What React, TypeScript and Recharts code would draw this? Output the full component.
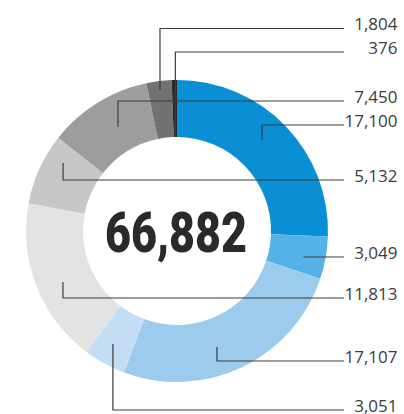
import React from "react";
import { PieChart, Pie, Cell } from "recharts";

const categories = ["A", "B", "C", "D", "E", "F", "G", "H", "I"];
const values = [17100, 3049, 17107, 3051, 11813, 5132, 7450, 1804, 376];
const colors = ["#0a8fd4", "#55b2e6", "#9ccbee", "#c3ddf4", "#e3e3e3", "#c6c7c6", "#9d9e9c", "#727270", "#2b2a29"];

// leader layout (annotation geometry)
const leaderLineY = [125, 257, 361, 410, 298, 180, 101, 28.5, 52];
const anchorRadius = [124.5, 129.6, 122.7, 130, 124.9, 132.7, 119.6, 142, 94];
const anchorAngleShift = [-3, 1.4, 6.5, 0.8, -2.8, 6.5, 2.2, 0, 0];

const data = categories.map((c, i) => ({ name: c, value: values[i] }));
const total = values.reduce((a, b) => a + b, 0);
const fmt = (v: number) => v.toLocaleString("en-US");

const LINE_END_X = 344;
const LABEL_X = 397.5;
const RAD = Math.PI / 180;

const renderLabel = (props: any) => {
  const { cx, cy, midAngle, index, value } = props;
  // recharts angle is counterclockwise from 3 o'clock; shift clockwise => subtract
  const ang = midAngle - anchorAngleShift[index];
  const r = anchorRadius[index];
  const ax = cx + r * Math.cos(-ang * RAD);
  const ay = cy + r * Math.sin(-ang * RAD);
  const ly = leaderLineY[index];
  const d = `M${ax},${ay} V${ly} H${LINE_END_X}`;
  return (
    <g key={`lbl-${index}`}>
      <path d={d} fill="none" stroke="#3c3c3b" strokeWidth={1.2} />
      <text
        x={LABEL_X}
        y={ly + 1.5}
        textAnchor="end"
        fontFamily="'Open Sans', sans-serif"
        fontSize={17}
        fill="#3c3c3b"
      >
        {fmt(value)}
      </text>
    </g>
  );
};

export default function App() {
  return (
    <div style={{ position: "absolute", left: 0, top: 0, width: 404, height: 414, background: "#fff" }}>
      <PieChart width={404} height={414} margin={{ top: 0, right: 0, bottom: 0, left: 0 }}>
        <Pie
          data={data}
          dataKey="value"
          nameKey="name"
          cx={177}
          cy={231}
          innerRadius={94}
          outerRadius={151}
          startAngle={90}
          endAngle={-270}
          stroke="none"
          isAnimationActive={false}
          labelLine={false}
          label={renderLabel}
        >
          {data.map((d, i) => (
            <Cell key={d.name} fill={colors[i]} />
          ))}
        </Pie>
        <text
          x={176}
          y={233}
          textAnchor="middle"
          dominantBaseline="central"
          fontFamily="Roboto, sans-serif"
          fontWeight={900}
          fontSize={55}
          fill="#2b2a29"
          textLength={142}
          lengthAdjust="spacingAndGlyphs"
        >
          {fmt(total)}
        </text>
      </PieChart>
    </div>
  );
}
